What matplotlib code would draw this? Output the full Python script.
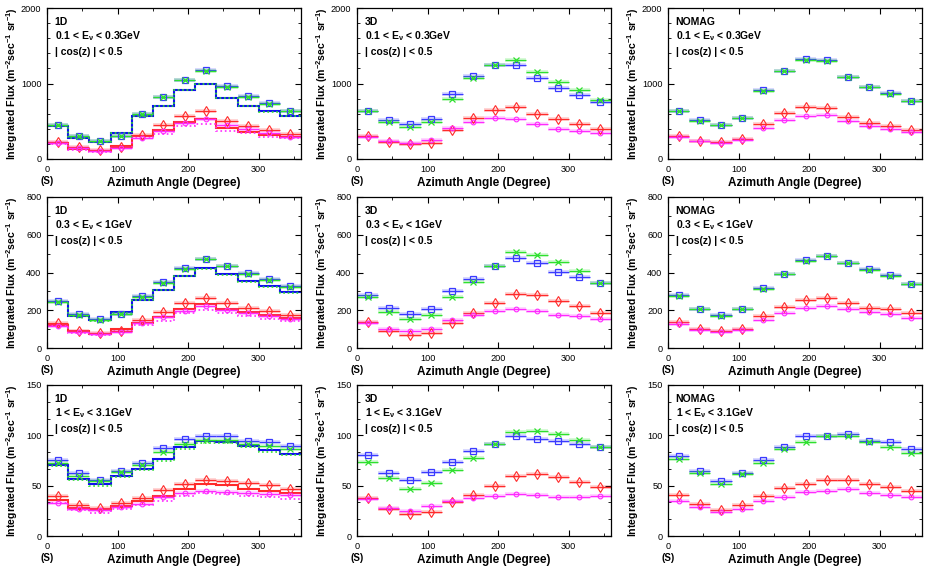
import matplotlib
matplotlib.use('Agg')
import matplotlib.pyplot as plt
import numpy as np
from matplotlib.ticker import MultipleLocator

plt.rcParams['font.family'] = ['Liberation Sans', 'DejaVu Sans']
plt.rcParams['mathtext.fontset'] = 'custom'
plt.rcParams['mathtext.rm'] = 'Liberation Sans'
plt.rcParams['mathtext.it'] = 'Liberation Sans:italic'
plt.rcParams['mathtext.bf'] = 'Liberation Sans:bold'

# azimuth bins (degree)
edges = np.arange(0, 361, 30)
centers = edges[:-1] + 15

# ---- 0.1 < E < 0.3 GeV ----
blue_1d_a = [453, 307, 240, 307, 600, 822, 1049, 1178, 964, 831, 738, 636]
green_1d_a = [448, 303, 238, 303, 596, 818, 1045, 1172, 960, 827, 735, 632]
red_1d_a = [231, 156, 120, 164, 320, 444, 564, 631, 498, 431, 387, 329]
mag_1d_a = [218, 142, 111, 147, 276, 373, 476, 533, 453, 396, 342, 298]
hblue_1d_a = [440, 284, 231, 342, 573, 707, 920, 1000, 804, 707, 631, 569]
hgreen_1d_a = [438, 282, 229, 340, 571, 705, 918, 998, 802, 705, 629, 567]
hred_1d_a = [218, 133, 107, 173, 307, 378, 489, 533, 409, 356, 320, 298]
hmag_1d_a = [200, 124, 98, 151, 276, 333, 431, 467, 373, 342, 298, 276]

blue_3d_a = [631, 511, 462, 533, 862, 1098, 1240, 1249, 1071, 942, 849, 756]
green_3d_a = [631, 484, 422, 484, 800, 1067, 1240, 1307, 1151, 1022, 911, 787]
red_3d_a = [302, 231, 196, 218, 387, 538, 644, 689, 600, 533, 462, 396]
mag_3d_a = [298, 244, 218, 253, 404, 493, 542, 533, 462, 400, 373, 342]

blue_nm_a = [640, 511, 453, 542, 911, 1164, 1320, 1307, 1089, 956, 871, 773]
green_nm_a = [636, 507, 450, 540, 906, 1160, 1316, 1303, 1086, 952, 867, 770]
red_nm_a = [307, 244, 222, 267, 462, 604, 689, 671, 551, 471, 440, 387]
mag_nm_a = [298, 236, 209, 253, 409, 511, 573, 582, 498, 431, 400, 351]

# ---- 0.3 < E < 1 GeV ----
blue_1d_b = [248, 179, 151, 181, 275, 348, 422, 472, 435, 396, 364, 326]
green_1d_b = [245, 177, 149, 179, 272, 345, 420, 470, 432, 392, 362, 324]
red_1d_b = [131, 90, 80, 92, 149, 190, 236, 263, 236, 213, 195, 174]
mag_1d_b = [117, 85, 73, 85, 135, 165, 197, 222, 202, 186, 170, 153]
hblue_1d_b = [245, 170, 147, 190, 254, 307, 383, 422, 390, 355, 330, 298]
hgreen_1d_b = [243, 168, 145, 188, 252, 305, 381, 420, 387, 348, 325, 294]
hred_1d_b = [124, 89, 73, 99, 135, 165, 209, 232, 206, 192, 174, 158]
hmag_1d_b = [117, 82, 67, 90, 124, 144, 183, 200, 183, 169, 156, 142]

blue_3d_b = [280, 213, 179, 204, 302, 365, 435, 475, 449, 401, 378, 344]
green_3d_b = [268, 192, 151, 174, 268, 348, 435, 507, 491, 456, 406, 344]
red_3d_b = [138, 90, 69, 82, 135, 186, 240, 286, 282, 250, 225, 188]
mag_3d_b = [135, 101, 90, 101, 147, 176, 195, 208, 195, 177, 167, 154]

blue_nm_b = [280, 206, 174, 209, 316, 394, 465, 490, 452, 419, 385, 341]
green_nm_b = [273, 204, 172, 205, 314, 392, 460, 486, 449, 412, 383, 337]
red_nm_b = [138, 103, 89, 99, 169, 216, 254, 266, 241, 213, 204, 183]
mag_nm_b = [129, 98, 83, 98, 147, 183, 213, 224, 209, 192, 179, 160]

# ---- 1 < E < 3.1 GeV ----
blue_1d_c = [75.3, 62.1, 56.1, 64.1, 73.0, 87.3, 96.6, 99.2, 98.9, 94.6, 93.3, 89.9]
green_1d_c = [72.4, 59.4, 54.4, 63.1, 71.0, 83.0, 91.6, 95.6, 95.3, 91.3, 89.6, 86.3]
red_1d_c = [39.8, 30.5, 27.9, 32.9, 38.2, 45.5, 51.4, 56.1, 54.4, 52.8, 50.4, 47.1]
mag_1d_c = [33.2, 27.2, 25.6, 28.5, 32.2, 38.8, 42.8, 45.1, 43.8, 43.1, 41.8, 40.5]
hblue_1d_c = [71.0, 56.4, 51.4, 59.4, 67.0, 76.3, 88.6, 94.6, 93.6, 89.6, 85.3, 81.3]
hgreen_1d_c = [69.7, 55.4, 50.1, 58.7, 65.7, 74.7, 86.6, 92.6, 91.9, 88.0, 83.6, 80.0]
hred_1d_c = [35.5, 27.9, 26.2, 29.9, 34.5, 39.8, 46.8, 51.4, 50.4, 47.1, 44.8, 42.8]
hmag_1d_c = [33.2, 25.6, 23.2, 26.6, 30.9, 35.2, 39.8, 43.1, 41.8, 39.8, 38.5, 36.5]

blue_3d_c = [80.3, 63.0, 55.7, 63.3, 74.0, 84.3, 91.0, 99.7, 96.0, 94.3, 91.0, 88.7]
green_3d_c = [74.0, 57.7, 46.3, 52.7, 65.3, 77.0, 91.0, 103.3, 104.3, 101.3, 95.3, 88.7]
red_3d_c = [37.7, 27.0, 21.7, 24.3, 34.0, 41.0, 50.0, 60.0, 61.3, 58.3, 54.0, 48.7]
mag_3d_c = [36.7, 27.7, 25.3, 30.0, 35.0, 38.0, 39.3, 41.7, 40.7, 38.7, 38.7, 39.3]

blue_nm_c = [79.7, 64.8, 54.2, 62.8, 75.7, 88.0, 99.3, 99.7, 101.3, 94.0, 93.7, 86.7]
green_nm_c = [76.7, 62.5, 51.8, 61.5, 72.8, 86.4, 93.4, 99.7, 99.0, 93.0, 88.4, 82.4]
red_nm_c = [40.9, 31.9, 26.2, 31.2, 39.5, 47.2, 51.8, 56.1, 55.8, 51.5, 48.5, 44.9]
mag_nm_c = [34.9, 28.9, 24.3, 27.2, 34.9, 39.2, 44.2, 44.5, 46.2, 43.2, 41.2, 38.9]

models = ['1D', '3D', 'NOMAG']
energy_labels = [r'0.1 < E$_{\mathbf{\nu}}$ < 0.3GeV',
                 r'0.3 < E$_{\mathbf{\nu}}$ < 1GeV',
                 r'1 < E$_{\mathbf{\nu}}$ < 3.1GeV']
ymax = [2000, 800, 150]
ymajor = [1000, 200, 50]
yminor = [200, 100, 50 / 3]

points = [
    [(blue_1d_a, green_1d_a, red_1d_a, mag_1d_a),
     (blue_3d_a, green_3d_a, red_3d_a, mag_3d_a),
     (blue_nm_a, green_nm_a, red_nm_a, mag_nm_a)],
    [(blue_1d_b, green_1d_b, red_1d_b, mag_1d_b),
     (blue_3d_b, green_3d_b, red_3d_b, mag_3d_b),
     (blue_nm_b, green_nm_b, red_nm_b, mag_nm_b)],
    [(blue_1d_c, green_1d_c, red_1d_c, mag_1d_c),
     (blue_3d_c, green_3d_c, red_3d_c, mag_3d_c),
     (blue_nm_c, green_nm_c, red_nm_c, mag_nm_c)],
]
hists = [
    (hblue_1d_a, hgreen_1d_a, hred_1d_a, hmag_1d_a),
    (hblue_1d_b, hgreen_1d_b, hred_1d_b, hmag_1d_b),
    (hblue_1d_c, hgreen_1d_c, hred_1d_c, hmag_1d_c),
]

c_blue = '#3a3aff'
c_green = '#2ee02e'
c_red = '#ff2a2a'
c_mag = '#ff2aff'
styles = [
    dict(color=c_blue, marker='s', ms=4.2, mfc='none', mew=0.9),
    dict(color=c_green, marker='x', ms=3.8, mew=0.9),
    dict(color=c_red, marker='d', ms=5.2, mfc='none', mew=0.8),
    dict(color=c_mag, marker='o', ms=3.4, mfc='none', mew=0.8),
]

W, H = 926, 568
fig = plt.figure(figsize=(W / 100, H / 100), dpi=100)

col_left = [47, 357, 668]
row_top = [8, 197, 385]
aw, ah = 254, 151

for r in range(3):
    for c in range(3):
        ax = fig.add_axes([col_left[c] / W, 1 - (row_top[r] + ah) / H, aw / W, ah / H])

        # 1D panels carry the histograms as well
        if c == 0:
            hb, hg, hr, hm = hists[r]
            ax.stairs(hb, edges, color='#1010ee', lw=1.5, baseline=None)
            ax.stairs(hg, edges, color=c_green, lw=1.2, ls=':', baseline=None)
            ax.stairs(hr, edges, color=c_red, lw=1.5, baseline=None)
            ax.stairs(hm, edges, color=c_mag, lw=1.2, ls=':', baseline=None)

        for vals, st in zip(points[r][c], styles):
            ax.hlines(vals, centers - 15, centers + 15, color=st['color'], lw=2.8, alpha=0.2)
            ax.errorbar(centers, vals, xerr=15, ls='none', elinewidth=0.9, capsize=0, **st)

        ax.set_xlim(0, 360)
        ax.set_ylim(0, ymax[r])
        ax.xaxis.set_major_locator(MultipleLocator(100))
        ax.xaxis.set_minor_locator(MultipleLocator(50))
        ax.yaxis.set_major_locator(MultipleLocator(ymajor[r]))
        ax.yaxis.set_minor_locator(MultipleLocator(yminor[r]))
        ax.tick_params(which='both', direction='in', top=True, right=True, labelsize=6.6)
        ax.tick_params(axis='y', pad=4)
        ax.tick_params(axis='x', pad=4)
        ax.tick_params(which='major', length=4, width=0.8)
        ax.tick_params(which='minor', length=2, width=0.6)
        for s in ax.spines.values():
            s.set_linewidth(0.9)

        ax.set_xlabel('Azimuth Angle (Degree)', fontsize=8.5, fontweight='bold', va='center')
        ax.xaxis.set_label_coords(0.5, -0.16)
        ax.set_ylabel(r'Integrated Flux (m$^{\mathbf{-2}}$sec$^{\mathbf{-1}}$ sr$^{\mathbf{-1}}$)',
                      fontsize=7.6, fontweight='bold', va='center')
        ax.yaxis.set_label_coords(-0.138, 0.5)
        ax.text(0, -0.147, '(S)', transform=ax.get_xaxis_transform(), ha='center', va='center',
                fontsize=7, fontweight='bold')

        ax.text(0.03, 0.905, models[c], transform=ax.transAxes, fontsize=7.5,
                fontweight='bold', va='center')
        ax.text(0.03, 0.815, energy_labels[r], transform=ax.transAxes, fontsize=7.5,
                fontweight='bold', va='center')
        ax.text(0.03, 0.71, '| cos(z) | < 0.5', transform=ax.transAxes, fontsize=7.5,
                fontweight='bold', va='center')

fig.savefig('out.png', dpi=100)
